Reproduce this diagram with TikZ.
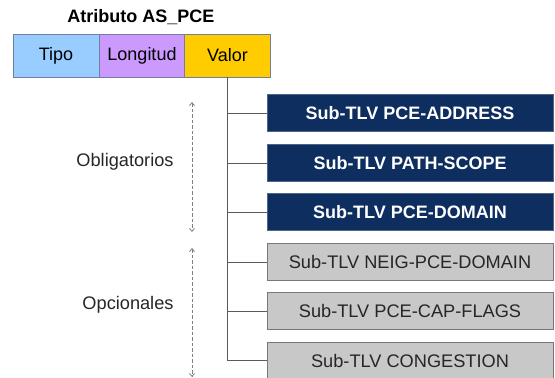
\documentclass[tikz,border=0pt]{standalone}
\usepackage{fontspec}
\setmainfont{Liberation Sans}
\usepackage{tikz}
\usetikzlibrary{arrows.meta}

\definecolor{tipoblue}{RGB}{153,204,255}
\definecolor{longlila}{RGB}{204,153,255}
\definecolor{valorgold}{RGB}{255,204,0}
\definecolor{hdrframe}{RGB}{110,128,158}
\definecolor{navy}{RGB}{14,46,96}
\definecolor{navyframe}{RGB}{80,100,135}
\definecolor{subgray}{RGB}{200,200,200}
\definecolor{subframe}{RGB}{120,120,120}
\definecolor{linegray}{RGB}{90,90,90}

\tikzset{
	hdrbox/.style={rectangle, draw=hdrframe, line width=0.9pt, minimum width=86pt, minimum height=43pt, inner sep=0pt, font=\fontsize{18}{20}\selectfont},
	obligbox/.style={rectangle, draw=navyframe, fill=navy, line width=0.9pt, minimum width=286pt, minimum height=37pt, inner sep=0pt, text=white, font=\fontsize{18}{20}\selectfont\bfseries},
	opcbox/.style={rectangle, draw=subframe, fill=subgray, line width=0.9pt, minimum width=286pt, minimum height=37pt, inner sep=0pt, text=black!85, font=\fontsize{18.2}{20}\selectfont},
	grouplabel/.style={font=\fontsize{18.2}{20}\selectfont, text=black!85},
	rangearrow/.style={gray, line width=0.8pt, dash pattern=on 3.5pt off 2pt, {Straight Barb[length=3pt,width=5pt]}-{Straight Barb[length=3pt,width=5pt]}}
}

\begin{document}
\begin{tikzpicture}[x=1pt, y=-1pt]
		\useasboundingbox (0,0) rectangle (555,378);
		
		\node (titulo) [font=\fontsize{18}{20}\selectfont\bfseries] at (141,17) {Atributo AS\_PCE};
		
		\node (tipo) [hdrbox, fill=tipoblue] at (56,55.5) {Tipo};
		\node (longitud) [hdrbox, fill=longlila] at (142,55.5) {Longitud};
		\node (valor) [hdrbox, fill=valorgold] at (227.5,55.5) {Valor};
		
		\node (address) [obligbox] at (410,113) {Sub-TLV PCE-ADDRESS};
		\node (scope) [obligbox] at (410,163) {Sub-TLV PATH-SCOPE};
		\node (domain) [obligbox] at (410,212) {Sub-TLV PCE-DOMAIN};
		
		\node (neig) [opcbox] at (410,262) {Sub-TLV NEIG-PCE-DOMAIN};
		\node (capflags) [opcbox] at (410,311) {Sub-TLV PCE-CAP-FLAGS};
		\node (congestion) [opcbox] at (410,360.5) {Sub-TLV CONGESTION};
		
		\draw [linegray, line width=0.9pt] (valor.south) |- (address.west);
		\draw [linegray, line width=0.9pt] (valor.south) |- (scope.west);
		\draw [linegray, line width=0.9pt] (valor.south) |- (domain.west);
		\draw [linegray, line width=0.9pt] (valor.south) |- (neig.west);
		\draw [linegray, line width=0.9pt] (valor.south) |- (capflags.west);
		\draw [linegray, line width=0.9pt] (valor.south) |- (congestion.west);
		
		\coordinate (obligtop) at (192,102);
		\coordinate (obligbot) at (192,232);
		\coordinate (opctop) at (192,248);
		\coordinate (opcbot) at (192,377);
		\draw [rangearrow] (obligtop) -- (obligbot);
		\draw [rangearrow] (opctop) -- (opcbot);
		
		\node (obligatorios) [grouplabel] at (125,162) {Obligatorios};
		\node (opcionales) [grouplabel] at (128,305) {Opcionales};
		
\end{tikzpicture}
\end{document}
